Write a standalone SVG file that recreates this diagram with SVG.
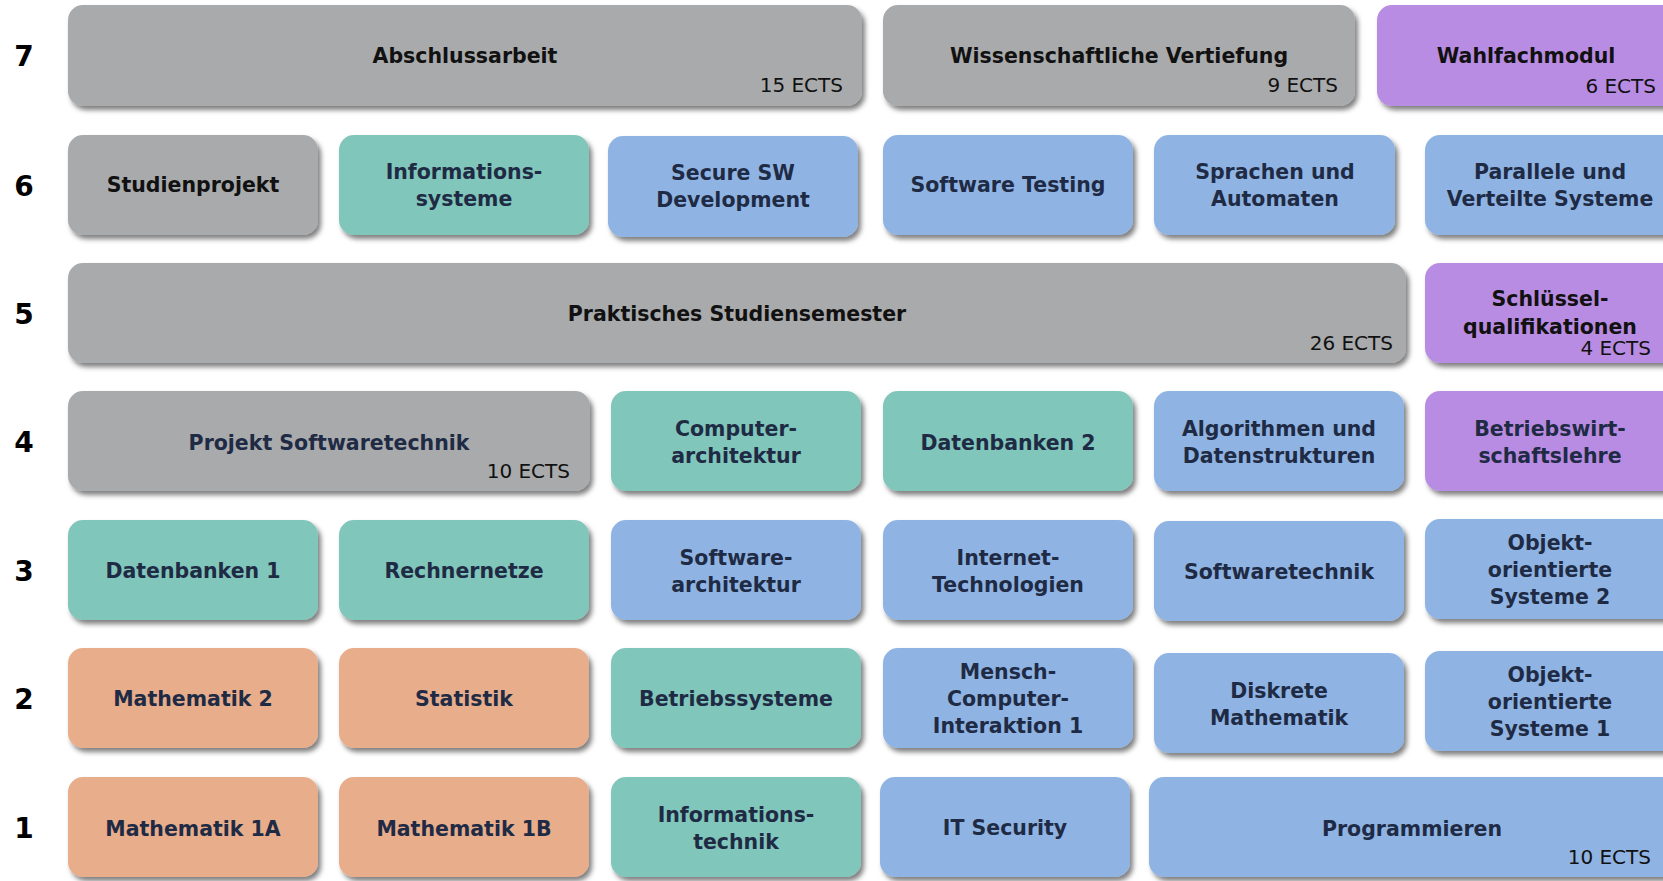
<svg xmlns="http://www.w3.org/2000/svg" width="1663" height="881" viewBox="0 0 1663 881">
<defs>
<filter id="sh" x="-10%" y="-20%" width="125%" height="150%">
<feDropShadow dx="3" dy="4" stdDeviation="2.5" flood-color="#000" flood-opacity="0.5"/>
</filter>
<style>
rect{filter:url(#sh)}
.g{fill:#a9aaac}.t{fill:#80c6ba}.b{fill:#8fb4e3}.o{fill:#e8ad8b}.p{fill:#b98ce3}
text{font-family:"DejaVu Sans","Liberation Sans",sans-serif}
.n{font-size:20.5px;font-weight:bold;fill:#1f2b45;text-anchor:middle}
.k{font-size:20.5px;font-weight:bold;fill:#111;text-anchor:middle}
.e{font-size:20px;fill:#111;text-anchor:end}
.r{font-size:28px;font-weight:bold;fill:#000;text-anchor:middle}
</style>
</defs>
<rect width="1663" height="881" fill="#fff" style="filter:none"/>
<g id="rows">
<text class="r" x="24" y="66">7</text>
<text class="r" x="24" y="196">6</text>
<text class="r" x="24" y="324">5</text>
<text class="r" x="24" y="452">4</text>
<text class="r" x="24" y="581">3</text>
<text class="r" x="24" y="709">2</text>
<text class="r" x="24" y="838">1</text>
</g>
<g id="connectors"></g>
<!-- Row 7 -->
<g id="abschlussarbeit"><rect class="g" x="68" y="5" width="794" height="101" rx="15"/><text class="k" x="465" y="63">Abschlussarbeit</text><text class="e" x="843" y="92">15 ECTS</text></g>
<g id="wissenschaftliche-vertiefung"><rect class="g" x="883" y="5" width="472" height="101" rx="15"/><text class="k" x="1119" y="63">Wissenschaftliche Vertiefung</text><text class="e" x="1338" y="92">9 ECTS</text></g>
<g id="wahlfachmodul"><rect class="p" x="1377" y="5" width="310" height="101" rx="15"/><text class="k" x="1526" y="63">Wahlfachmodul</text><text class="e" x="1656" y="93">6 ECTS</text></g>
<!-- Row 6 -->
<g id="studienprojekt"><rect class="g" x="68" y="135" width="250" height="100" rx="15"/><text class="k" x="193" y="192">Studienprojekt</text></g>
<g id="informationssysteme"><rect class="t" x="339" y="135" width="250" height="100" rx="15"/><text class="n" x="464" y="179">Informations-</text><text class="n" x="464" y="206">systeme</text></g>
<g id="secure-sw"><rect class="b" x="608" y="136" width="250" height="101" rx="15"/><text class="n" x="733" y="180">Secure SW</text><text class="n" x="733" y="207">Development</text></g>
<g id="software-testing"><rect class="b" x="883" y="135" width="250" height="100" rx="15"/><text class="n" x="1008" y="192">Software Testing</text></g>
<g id="sprachen-automaten"><rect class="b" x="1154" y="135" width="241" height="100" rx="15"/><text class="n" x="1275" y="179">Sprachen und</text><text class="n" x="1275" y="206">Automaten</text></g>
<g id="parallele-systeme"><rect class="b" x="1425" y="135" width="262" height="100" rx="15"/><text class="n" x="1550" y="179">Parallele und</text><text class="n" x="1550" y="206">Verteilte Systeme</text></g>
<!-- Row 5 -->
<g id="praxissemester"><rect class="g" x="68" y="263" width="1338" height="100" rx="15"/><text class="k" x="737" y="321">Praktisches Studiensemester</text><text class="e" x="1393" y="350">26 ECTS</text></g>
<g id="schluesselqualifikationen"><rect class="p" x="1425" y="263" width="262" height="100" rx="15"/><text class="k" x="1550" y="306">Schlüssel-</text><text class="k" x="1550" y="334">qualifikationen</text><text class="e" x="1651" y="355">4 ECTS</text></g>
<!-- Row 4 -->
<g id="projekt-softwaretechnik"><rect class="g" x="68" y="391" width="522" height="100" rx="15"/><text class="n" x="329" y="450">Projekt Softwaretechnik</text><text class="e" x="570" y="478">10 ECTS</text></g>
<g id="computerarchitektur"><rect class="t" x="611" y="391" width="250" height="100" rx="15"/><text class="n" x="736" y="436">Computer-</text><text class="n" x="736" y="463">architektur</text></g>
<g id="datenbanken-2"><rect class="t" x="883" y="391" width="250" height="100" rx="15"/><text class="n" x="1008" y="450">Datenbanken 2</text></g>
<g id="algorithmen"><rect class="b" x="1154" y="391" width="250" height="100" rx="15"/><text class="n" x="1279" y="436">Algorithmen und</text><text class="n" x="1279" y="463">Datenstrukturen</text></g>
<g id="bwl"><rect class="p" x="1425" y="391" width="262" height="100" rx="15"/><text class="n" x="1550" y="436">Betriebswirt-</text><text class="n" x="1550" y="463">schaftslehre</text></g>
<!-- Row 3 -->
<g id="datenbanken-1"><rect class="t" x="68" y="520" width="250" height="100" rx="15"/><text class="n" x="193" y="578">Datenbanken 1</text></g>
<g id="rechnernetze"><rect class="t" x="339" y="520" width="250" height="100" rx="15"/><text class="n" x="464" y="578">Rechnernetze</text></g>
<g id="softwarearchitektur"><rect class="b" x="611" y="520" width="250" height="100" rx="15"/><text class="n" x="736" y="565">Software-</text><text class="n" x="736" y="592">architektur</text></g>
<g id="internet-technologien"><rect class="b" x="883" y="520" width="250" height="100" rx="15"/><text class="n" x="1008" y="565">Internet-</text><text class="n" x="1008" y="592">Technologien</text></g>
<g id="softwaretechnik"><rect class="b" x="1154" y="521" width="250" height="100" rx="15"/><text class="n" x="1279" y="579">Softwaretechnik</text></g>
<g id="oos-2"><rect class="b" x="1425" y="519" width="262" height="100" rx="15"/><text class="n" x="1550" y="550">Objekt-</text><text class="n" x="1550" y="577">orientierte</text><text class="n" x="1550" y="604">Systeme 2</text></g>
<!-- Row 2 -->
<g id="mathematik-2"><rect class="o" x="68" y="648" width="250" height="100" rx="15"/><text class="n" x="193" y="706">Mathematik 2</text></g>
<g id="statistik"><rect class="o" x="339" y="648" width="250" height="100" rx="15"/><text class="n" x="464" y="706">Statistik</text></g>
<g id="betriebssysteme"><rect class="t" x="611" y="648" width="250" height="100" rx="15"/><text class="n" x="736" y="706">Betriebssysteme</text></g>
<g id="mci-1"><rect class="b" x="883" y="648" width="250" height="100" rx="15"/><text class="n" x="1008" y="679">Mensch-</text><text class="n" x="1008" y="706">Computer-</text><text class="n" x="1008" y="733">Interaktion 1</text></g>
<g id="diskrete-mathematik"><rect class="b" x="1154" y="653" width="250" height="100" rx="15"/><text class="n" x="1279" y="698">Diskrete</text><text class="n" x="1279" y="725">Mathematik</text></g>
<g id="oos-1"><rect class="b" x="1425" y="651" width="262" height="100" rx="15"/><text class="n" x="1550" y="682">Objekt-</text><text class="n" x="1550" y="709">orientierte</text><text class="n" x="1550" y="736">Systeme 1</text></g>
<!-- Row 1 -->
<g id="mathematik-1a"><rect class="o" x="68" y="777" width="250" height="100" rx="15"/><text class="n" x="193" y="836">Mathematik 1A</text></g>
<g id="mathematik-1b"><rect class="o" x="339" y="777" width="250" height="100" rx="15"/><text class="n" x="464" y="836">Mathematik 1B</text></g>
<g id="informationstechnik"><rect class="t" x="611" y="777" width="250" height="100" rx="15"/><text class="n" x="736" y="822">Informations-</text><text class="n" x="736" y="849">technik</text></g>
<g id="it-security"><rect class="b" x="880" y="777" width="250" height="100" rx="15"/><text class="n" x="1005" y="835">IT Security</text></g>
<g id="programmieren"><rect class="b" x="1149" y="777" width="538" height="100" rx="15"/><text class="n" x="1412" y="836">Programmieren</text><text class="e" x="1651" y="864">10 ECTS</text></g>
</svg>
